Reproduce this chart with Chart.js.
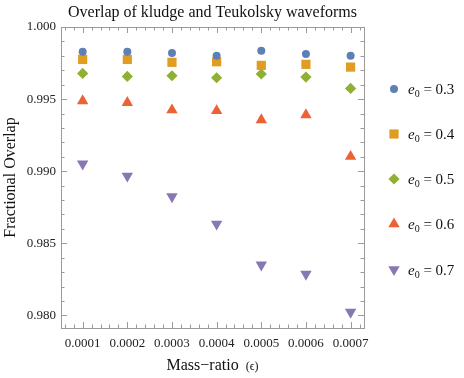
<!DOCTYPE html>
<html><head><meta charset="utf-8">
<script src="https://cdn.jsdelivr.net/npm/chart.js@4/dist/chart.umd.min.js"></script>
<style>html,body{margin:0;padding:0;background:#fff}#wrap{width:464px;height:378px;position:relative}</style>
</head><body><div id="wrap"><canvas id="c" width="464" height="378"></canvas></div>
<script>
const massRatio = [0.0001, 0.0002, 0.0003, 0.0004, 0.0005, 0.0006, 0.0007];
const overlapE03 = [0.99829, 0.99829, 0.99819, 0.99800, 0.99836, 0.99813, 0.99801];
const overlapE04 = [0.99775, 0.99775, 0.99755, 0.99759, 0.99734, 0.99741, 0.99722];
const overlapE05 = [0.99678, 0.99657, 0.99662, 0.99648, 0.99674, 0.99653, 0.99574];
const overlapE06 = [0.99488, 0.99475, 0.99424, 0.99419, 0.99356, 0.99391, 0.99102];
const overlapE07 = [0.99051, 0.98967, 0.98824, 0.98634, 0.98351, 0.98287, 0.98023];
const eccLabels = ['0.3', '0.4', '0.5', '0.6', '0.7'];
const xTickValues = [0.0001, 0.0002, 0.0003, 0.0004, 0.0005, 0.0006, 0.0007];
const yTickValues = [0.980, 0.985, 0.990, 0.995, 1.000];
const titleText = 'Overlap of kludge and Teukolsky waveforms';
const xTitleText = 'Mass\u2212ratio';
const xTitleSym = '(\u03f5)';
const yTitleText = 'Fractional Overlap';

const colors = ['#5E81B5', '#E19C24', '#8FB032', '#EB6235', '#8778B3'];
const styles = [
  {pointStyle: 'circle', radius: 4, rotation: 0},
  {pointStyle: 'rect', radius: 6.5, rotation: 0},
  {pointStyle: 'rectRot', radius: 5.6, rotation: 0},
  {pointStyle: 'triangle', radius: 6.6, rotation: 0},
  {pointStyle: 'triangle', radius: 6.6, rotation: 180}
];
const allSeries = [overlapE03, overlapE04, overlapE05, overlapE06, overlapE07];
const SERIF = '"Liberation Serif", "DejaVu Serif", serif';

const datasets = allSeries.map((arr, k) => ({
  label: 'e0 = ' + eccLabels[k],
  data: massRatio.map((x, i) => ({x: x, y: arr[i]})),
  backgroundColor: colors[k],
  borderColor: colors[k],
  borderWidth: 0,
  pointStyle: styles[k].pointStyle,
  pointRadius: styles[k].radius,
  pointRotation: styles[k].rotation,
  showLine: false
}));

function drawMarker(ctx, style, r, rot, x, y) {
  ctx.beginPath();
  if (style === 'circle') {
    ctx.arc(x, y, r, 0, Math.PI * 2);
  } else if (style === 'rect') {
    const s = Math.SQRT1_2 * r;
    ctx.rect(x - s, y - s, 2 * s, 2 * s);
  } else if (style === 'rectRot') {
    ctx.moveTo(x - r, y); ctx.lineTo(x, y - r); ctx.lineTo(x + r, y); ctx.lineTo(x, y + r);
    ctx.closePath();
  } else if (style === 'triangle') {
    let rad = rot * Math.PI / 180;
    ctx.moveTo(x + Math.sin(rad) * r, y - Math.cos(rad) * r);
    rad += 2 * Math.PI / 3;
    ctx.lineTo(x + Math.sin(rad) * r, y - Math.cos(rad) * r);
    rad += 2 * Math.PI / 3;
    ctx.lineTo(x + Math.sin(rad) * r, y - Math.cos(rad) * r);
    ctx.closePath();
  }
  ctx.fill();
}

const framePlugin = {
  id: 'framePlugin',
  afterDraw(chart) {
    const ctx = chart.ctx;
    const a = chart.chartArea;
    const xs = chart.scales.x, ys = chart.scales.y;
    ctx.save();
    ctx.strokeStyle = '#9a9a9a';
    ctx.lineWidth = 1;
    ctx.strokeRect(Math.round(a.left) + 0.5, Math.round(a.top) + 0.5, Math.round(a.right - a.left), Math.round(a.bottom - a.top));
    ctx.beginPath();
    // x ticks
    for (let i = 0; i <= 40; i++) {
      const v = 0.00004 + i * 0.00002;
      const px = xs.getPixelForValue(v);
      if (px <= a.left + 1 || px >= a.right - 1) continue;
      const major = Math.abs((v / 0.0001) - Math.round(v / 0.0001)) < 1e-6;
      const len = major ? 6 : 3.5;
      const xx = Math.round(px) + 0.5;
      ctx.moveTo(xx, a.bottom); ctx.lineTo(xx, a.bottom - len);
      ctx.moveTo(xx, a.top); ctx.lineTo(xx, a.top + len);
    }
    // y ticks
    for (let i = 0; i <= 25; i++) {
      const v = 0.978 + i * 0.001;
      const py = ys.getPixelForValue(v);
      if (py <= a.top + 1 || py >= a.bottom - 1) continue;
      const major = Math.abs((v / 0.005) - Math.round(v / 0.005)) < 1e-6;
      const len = major ? 6 : 3.5;
      const yy = Math.round(py) + 0.5;
      ctx.moveTo(a.left, yy); ctx.lineTo(a.left + len, yy);
      ctx.moveTo(a.right, yy); ctx.lineTo(a.right - len, yy);
    }
    ctx.stroke();

    // title
    ctx.fillStyle = '#111';
    ctx.textAlign = 'center';
    ctx.textBaseline = 'middle';
    ctx.font = '16px ' + SERIF;
    const cx = (a.left + a.right) / 2;
    ctx.fillText(titleText, cx, 13);

    // x title
    ctx.font = '16px ' + SERIF;
    const w1 = ctx.measureText(xTitleText).width;
    ctx.font = '12px ' + SERIF;
    const gap = 7;
    const w2 = ctx.measureText(xTitleSym).width;
    const tot = w1 + gap + w2;
    ctx.textAlign = 'left';
    ctx.font = '16px ' + SERIF;
    ctx.fillText(xTitleText, cx - tot / 2, 366);
    ctx.font = '12px ' + SERIF;
    ctx.fillText(xTitleSym, cx - tot / 2 + w1 + gap, 367);

    // y title
    ctx.save();
    ctx.translate(11, (a.top + a.bottom) / 2);
    ctx.rotate(-Math.PI / 2);
    ctx.textAlign = 'center';
    ctx.font = '16px ' + SERIF;
    ctx.fillText(yTitleText, 0, 0);
    ctx.restore();

    // legend
    const legY = [89, 134, 179, 224, 269.5];
    const mx = 394, tx = 408;
    for (let k = 0; k < datasets.length; k++) {
      const y = legY[k];
      ctx.fillStyle = colors[k];
      drawMarker(ctx, styles[k].pointStyle, styles[k].radius, styles[k].rotation, mx, y);
      ctx.fillStyle = '#111';
      ctx.textAlign = 'left';
      ctx.textBaseline = 'alphabetic';
      let x = tx;
      ctx.font = 'italic 15px ' + SERIF;
      ctx.fillText('e', x, y + 5);
      x += ctx.measureText('e').width;
      ctx.font = '10px ' + SERIF;
      ctx.fillText('0', x, y + 8);
      x += ctx.measureText('0').width;
      ctx.font = '15px ' + SERIF;
      ctx.fillText(' = ' + eccLabels[k], x, y + 5);
    }
    ctx.restore();
  }
};

new Chart(document.getElementById('c'), {
  type: 'scatter',
  data: {datasets: datasets},
  options: {
    responsive: false,
    animation: false,
    devicePixelRatio: 1,
    layout: {padding: {top: 27, right: 100, left: 0, bottom: 0}},
    plugins: {legend: {display: false}, title: {display: false}, tooltip: {enabled: false}},
    scales: {
      x: {
        type: 'linear',
        min: 0.0000515,
        max: 0.00073,
        afterBuildTicks: s => { s.ticks = xTickValues.map(v => ({value: v})); },
        afterFit: s => { s.height = 50; },
        grid: {display: false, drawTicks: false},
        border: {display: false},
        ticks: {
          callback: v => Number(v).toFixed(4),
          font: {family: SERIF, size: 13},
          color: '#222',
          padding: 8,
          maxRotation: 0,
          autoSkip: false
        }
      },
      y: {
        type: 'linear',
        min: 0.97913,
        max: 1.0,
        afterBuildTicks: s => { s.ticks = yTickValues.map(v => ({value: v})); },
        afterFit: s => { s.width = 61; },
        grid: {display: false, drawTicks: false},
        border: {display: false},
        ticks: {
          callback: v => Number(v).toFixed(3),
          font: {family: SERIF, size: 13},
          color: '#222',
          padding: 5
        }
      }
    }
  },
  plugins: [framePlugin]
});
</script>
</body></html>
